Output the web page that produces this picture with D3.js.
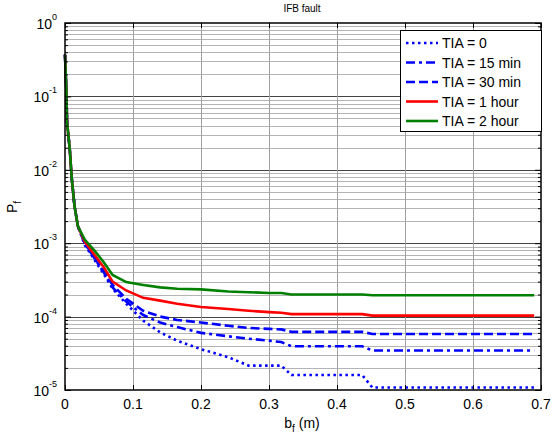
<!DOCTYPE html>
<html>
<head>
<meta charset="utf-8">
<script src="https://cdn.jsdelivr.net/npm/d3@7"></script>
<style>
  body { margin: 0; background: #fff; }
  text { font-family: Arial, "Liberation Sans", sans-serif; fill: #000; }
</style>
</head>
<body>
<div id="vis"></div>
<script>
// frame constants
const FRAME_WIDTH = 553;
const FRAME_HEIGHT = 439;
const PLOT = {left: 65, right: 541, top: 23, bottom: 390};

// data
const bVals = [0, 0.002, 0.003, 0.007, 0.01, 0.014, 0.019, 0.029, 0.044, 0.057, 0.07, 0.09,
               0.115, 0.14, 0.165, 0.2, 0.24, 0.27, 0.3, 0.318, 0.333, 0.36, 0.4, 0.437,
               0.452, 0.5, 0.6, 0.69];

const tia0 = [0.37, 0.12, 0.045, 0.019, 0.0075, 0.0032, 0.0017, 9.5e-4, 5.8e-4, 3.8e-4, 2.4e-4, 1.5e-4,
              8.8e-5, 6.1e-5, 4.7e-5, 3.6e-5, 2.8e-5, 2.15e-5, 2.15e-5, 2.15e-5, 1.6e-5, 1.6e-5, 1.6e-5, 1.6e-5,
              1.08e-5, 1.08e-5, 1.08e-5, 1.08e-5];
const tia15 = [0.37, 0.12, 0.045, 0.019, 0.0075, 0.0032, 0.0017, 1.0e-3, 6.1e-4, 4.0e-4, 2.5e-4, 1.6e-4,
               1.05e-4, 8.3e-5, 7.2e-5, 6.0e-5, 5.4e-5, 5.0e-5, 4.7e-5, 4.5e-5, 3.95e-5, 3.95e-5, 3.95e-5, 3.95e-5,
               3.45e-5, 3.45e-5, 3.45e-5, 3.45e-5];
const tia30 = [0.37, 0.12, 0.045, 0.019, 0.0075, 0.0032, 0.0017, 1.0e-3, 6.3e-4, 4.2e-4, 2.7e-4, 1.75e-4,
               1.2e-4, 1.0e-4, 9.0e-5, 8.3e-5, 7.5e-5, 7.0e-5, 6.8e-5, 6.7e-5, 6.2e-5, 6.2e-5, 6.2e-5, 6.2e-5,
               5.8e-5, 5.8e-5, 5.8e-5, 5.8e-5];
const tia60 = [0.37, 0.12, 0.045, 0.019, 0.0075, 0.0032, 0.0017, 1.05e-3, 6.8e-4, 4.7e-4, 3.0e-4, 2.27e-4,
               1.8e-4, 1.65e-4, 1.5e-4, 1.35e-4, 1.27e-4, 1.2e-4, 1.15e-4, 1.13e-4, 1.08e-4, 1.08e-4, 1.08e-4, 1.08e-4,
               1.03e-4, 1.03e-4, 1.03e-4, 1.03e-4];
const tia120 = [0.37, 0.12, 0.045, 0.019, 0.0075, 0.0032, 0.0017, 1.12e-3, 7.8e-4, 5.5e-4, 3.7e-4, 2.95e-4,
                2.7e-4, 2.5e-4, 2.4e-4, 2.35e-4, 2.2e-4, 2.15e-4, 2.1e-4, 2.1e-4, 2.0e-4, 2.0e-4, 2.0e-4, 2.0e-4,
                1.95e-4, 1.95e-4, 1.95e-4, 1.95e-4];

const seriesNames = ["TIA = 0", "TIA = 15 min", "TIA = 30 min", "TIA = 1 hour", "TIA = 2 hour"];
const seriesVals = [tia0, tia15, tia30, tia60, tia120];
const seriesColors = ["#0000ff", "#0000ff", "#0000ff", "#ff0000", "#008000"];
const seriesDash = ["2.5,3.5", "9,4,3,4", "9,4", null, null];

const xTicks = [0, 0.1, 0.2, 0.3, 0.4, 0.5, 0.6, 0.7];
const yExps = [0, -1, -2, -3, -4, -5];

const svg = d3.select("#vis")
  .append("svg")
    .attr("width", FRAME_WIDTH)
    .attr("height", FRAME_HEIGHT);

const x = d3.scaleLinear().domain([0, 0.7]).range([PLOT.left, PLOT.right]);
const y = d3.scaleLog().domain([1e-5, 1]).range([PLOT.bottom, PLOT.top]);

// minor log values 2..9 x 10^k
const minorVals = [];
for (let k = -5; k < 0; k++) {
  for (let m = 2; m <= 9; m++) minorVals.push(m * Math.pow(10, k));
}

// grid
const grid = svg.append("g");
grid.selectAll(".hminor")
  .data(minorVals)
  .enter()
  .append("line")
    .attr("x1", PLOT.left).attr("x2", PLOT.right)
    .attr("y1", (d) => Math.round(y(d)) + 0.5)
    .attr("y2", (d) => Math.round(y(d)) + 0.5)
    .attr("stroke", "#b4b4b4")
    .attr("stroke-width", 1);

grid.selectAll(".hmajor")
  .data(yExps.slice(1, 5))
  .enter()
  .append("line")
    .attr("x1", PLOT.left).attr("x2", PLOT.right)
    .attr("y1", (d) => Math.round(y(Math.pow(10, d))) + 0.5)
    .attr("y2", (d) => Math.round(y(Math.pow(10, d))) + 0.5)
    .attr("stroke", "#444")
    .attr("stroke-width", 1);

grid.selectAll(".vgrid")
  .data(xTicks.slice(1, 7))
  .enter()
  .append("line")
    .attr("x1", (d) => Math.round(x(d)) + 0.5)
    .attr("x2", (d) => Math.round(x(d)) + 0.5)
    .attr("y1", PLOT.top).attr("y2", PLOT.bottom)
    .attr("stroke", "#a0a0a0")
    .attr("stroke-width", 1);

// curves
const line = d3.line()
  .x((d, i) => x(bVals[i]))
  .y((d) => y(d));

svg.selectAll(".curve")
  .data(seriesVals)
  .enter()
  .append("path")
    .attr("d", (d) => line(d))
    .attr("fill", "none")
    .attr("stroke", (d, i) => seriesColors[i])
    .attr("stroke-width", 2.6)
    .attr("stroke-dasharray", (d, i) => seriesDash[i]);

// axes box with inward ticks on all sides
const axes = svg.append("g");
axes.append("rect")
  .attr("x", PLOT.left).attr("y", PLOT.top)
  .attr("width", PLOT.right - PLOT.left)
  .attr("height", PLOT.bottom - PLOT.top)
  .attr("fill", "none")
  .attr("stroke", "#000")
  .attr("stroke-width", 1.5);

const xBottom = d3.axisBottom(x).tickValues(xTicks).tickSize(-5).tickFormat("");
const xTop = d3.axisTop(x).tickValues(xTicks).tickSize(-5).tickFormat("");
axes.append("g").attr("transform", `translate(0,${PLOT.bottom})`).call(xBottom);
axes.append("g").attr("transform", `translate(0,${PLOT.top})`).call(xTop);

const yLeft = d3.axisLeft(y).tickValues(minorVals).tickSize(-3).tickFormat("");
const yRight = d3.axisRight(y).tickValues(minorVals).tickSize(-3).tickFormat("");
axes.append("g").attr("transform", `translate(${PLOT.left},0)`).call(yLeft);
axes.append("g").attr("transform", `translate(${PLOT.right},0)`).call(yRight);
const yLeftMaj = d3.axisLeft(y).tickValues(yExps.map((e) => Math.pow(10, e))).tickSize(-6).tickFormat("");
const yRightMaj = d3.axisRight(y).tickValues(yExps.map((e) => Math.pow(10, e))).tickSize(-6).tickFormat("");
axes.append("g").attr("transform", `translate(${PLOT.left},0)`).call(yLeftMaj);
axes.append("g").attr("transform", `translate(${PLOT.right},0)`).call(yRightMaj);
axes.selectAll(".domain").remove();
axes.selectAll(".tick line").attr("stroke", "#000");

// tick labels
svg.selectAll(".xlab")
  .data(xTicks)
  .enter()
  .append("text")
    .attr("x", (d) => x(d))
    .attr("y", PLOT.bottom + 19)
    .attr("text-anchor", "middle")
    .attr("font-size", 14)
    .text((d) => d);

const ylab = svg.selectAll(".ylab")
  .data(yExps)
  .enter()
  .append("text")
    .attr("x", PLOT.left - 8)
    .attr("y", (d) => y(Math.pow(10, d)) + 6)
    .attr("text-anchor", "end")
    .attr("font-size", 14);
ylab.append("tspan").text("10");
ylab.append("tspan").attr("font-size", 9).attr("dy", -9).text((d) => d);

// titles
svg.append("text")
  .attr("x", 302).attr("y", 12)
  .attr("text-anchor", "middle")
  .attr("font-size", 10)
  .text("IFB fault");

const xl = svg.append("text")
  .attr("x", 302).attr("y", 428)
  .attr("text-anchor", "middle")
  .attr("font-size", 14);
xl.append("tspan").text("b");
xl.append("tspan").attr("font-size", 10).attr("dy", 4).text("f");
xl.append("tspan").attr("dy", -4).text(" (m)");

const yl = svg.append("text")
  .attr("transform", "translate(17,207) rotate(-90)")
  .attr("text-anchor", "middle")
  .attr("font-size", 14);
yl.append("tspan").text("P");
yl.append("tspan").attr("font-size", 10).attr("dy", 4).text("f");

// legend
const legend = svg.append("g");
legend.append("rect")
  .attr("x", 400.5).attr("y", 30.5)
  .attr("width", 141).attr("height", 101)
  .attr("fill", "#fff")
  .attr("stroke", "#000")
  .attr("stroke-width", 1);

const rows = legend.selectAll(".row")
  .data(seriesNames)
  .enter()
  .append("g")
    .attr("transform", (d, i) => `translate(0,${43 + i * 19.5})`);
rows.append("line")
  .attr("x1", 406).attr("x2", 438)
  .attr("stroke", (d, i) => seriesColors[i])
  .attr("stroke-width", 2.6)
  .attr("stroke-dasharray", (d, i) => seriesDash[i]);
rows.append("text")
  .attr("x", 442).attr("y", 5)
  .attr("font-size", 14)
  .text((d) => d);
</script>
</body>
</html>
